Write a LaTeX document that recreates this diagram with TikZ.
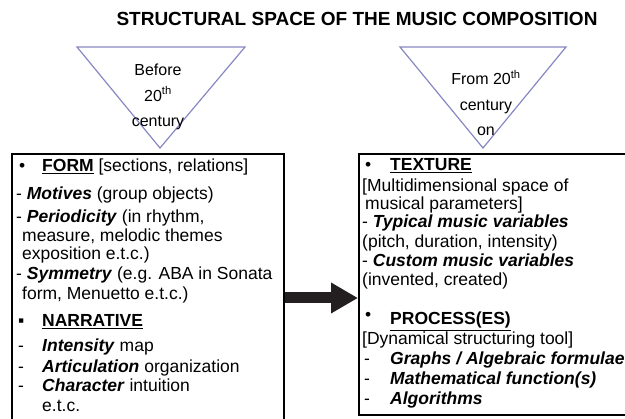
\documentclass[tikz,border=0pt]{standalone}
\usepackage{fontspec}
\setmainfont{Liberation Sans}
\usetikzlibrary{arrows.meta,positioning}
\definecolor{ctri}{RGB}{135,135,195}
\definecolor{carr}{RGB}{35,31,32}
\newcommand{\bi}[1]{\textbf{\textit{#1}}}
\newcommand{\hd}[1]{\underline{\textbf{#1}}}

\begin{document}
\begin{tikzpicture}[x=1pt,y=-1pt,
    txt/.style={anchor=base west,inner sep=0pt,font=\fontsize{17.5}{19}\selectfont},
    tri/.style={draw=ctri,line width=1.2pt,line join=miter},
    trilabel/.style={align=center,inner sep=0pt,font=\fontsize{16}{25.5}\selectfont},
    box/.style={draw,line width=1.8pt,anchor=north west,inner sep=0pt},
    bigarrow/.style={carr,line width=11pt,-{Triangle[length=27pt,width=29pt]}}]
    \useasboundingbox (0,0) rectangle (625,419);
    \clip (0,0) rectangle (625,419);

    % title and periods
    \node[font=\fontsize{19}{22}\selectfont\bfseries] (title) at (357,19) {STRUCTURAL SPACE OF THE MUSIC COMPOSITION};
    \draw[tri] (77,47) -- (245,47) -- (160,148) -- cycle;
    \node[trilabel] (before) at (158,97) {Before\\20\textsuperscript{th}\\century};
    \draw[tri] (400,47) -- (566,47) -- (483,148) -- cycle;
    \node[trilabel] (after) at (486,103) {From 20\textsuperscript{th}\\century\\on};

    % boxes
    \node[box,minimum width=272pt,minimum height=300pt] (formbox) at (11,153) {};
    \node[box,minimum width=300pt,minimum height=261pt] (texbox) at (358,153) {};
    \draw[bigarrow] (formbox.east |- 0,298) -- (texbox.west |- 0,298);

    % form / narrative
    \node[txt] (fb) at (19,172) {•};
    \node[txt] (form) at (42,172) {\hd{FORM} [sections, relations]};
    \node[txt] (motives) at (16,200) {- \bi{Motives} (group objects)};
    \node[txt] (period) at (16,223) {- \bi{Periodicity} (in rhythm,};
    \node[txt] (period2) at (22,242) {measure, melodic themes};
    \node[txt] (period3) at (22,260) {exposition e.t.c.)};
    \node[txt] (symm) at (16,280) {- \bi{Symmetry} (e.g. ABA in Sonata};
    \node[txt] (symm2) at (22,300) {form, Menuetto e.t.c.)};
    \node[txt] (nb) at (18,327) {▪};
    \node[txt] (narr) at (42,327) {\hd{NARRATIVE}};
    \node[txt] (d1) at (18,352) {-};
    \node[txt] (intens) at (42,352) {\bi{Intensity} map};
    \node[txt] (d2) at (18,373) {-};
    \node[txt] (artic) at (42,373) {\bi{Articulation} organization};
    \node[txt] (d3) at (18,392) {-};
    \node[txt] (charac) at (42,392) {\bi{Character} intuition};
    \node[txt] (etc) at (42,412) {e.t.c.};

    % texture / process
    \node[txt] (tb) at (365,171) {•};
    \node[txt] (texture) at (390,171) {\hd{TEXTURE}};
    \node[txt] (multi) at (362,192) {[Multidimensional space of};
    \node[txt] (multi2) at (365,210) {musical parameters]};
    \node[txt] (typical) at (362,228) {- \bi{Typical music variables}};
    \node[txt] (typical2) at (362,248) {(pitch, duration, intensity)};
    \node[txt] (custom) at (362,267) {- \bi{Custom music variables}};
    \node[txt] (custom2) at (362,286) {(invented, created)};
    \node[txt] (pb) at (365,321) {•};
    \node[txt] (process) at (390,325) {\hd{PROCESS(ES)}};
    \node[txt] (dynam) at (362,345) {[Dynamical structuring tool]};
    \node[txt] (e1) at (364,365) {-};
    \node[txt] (graphs) at (390,365) {\bi{Graphs / Algebraic formulae}};
    \node[txt] (e2) at (364,385) {-};
    \node[txt] (math) at (390,385) {\bi{Mathematical function(s)}};
    \node[txt] (e3) at (364,405) {-};
    \node[txt] (algo) at (390,405) {\bi{Algorithms}};
\end{tikzpicture}
\end{document}
